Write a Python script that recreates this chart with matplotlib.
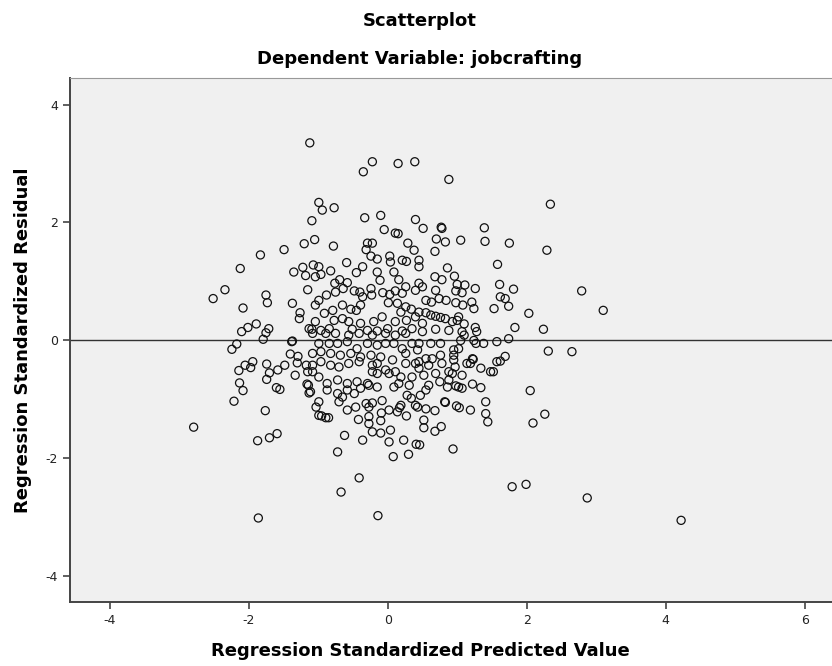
import matplotlib
matplotlib.use("Agg")
import matplotlib.pyplot as plt

# (predicted, residual) pairs, grouped by region
upper_left = [(-1.12, 3.35), (-1.09, 2.03), (-1.20, 1.64), (-1.49, 1.54), (-1.83, 1.45), (-2.12, 1.22),
              (-1.22, 1.24), (-1.35, 1.16), (-1.18, 1.10), (-2.34, 0.86), (-2.51, 0.71), (-1.15, 0.86),
              (-1.75, 0.77), (-1.73, 0.64), (-2.08, 0.55), (-1.37, 0.63), (-1.26, 0.47), (-1.27, 0.37),
              (-1.89, 0.28), (-2.01, 0.22), (-2.10, 0.15), (-1.71, 0.20), (-1.75, 0.13), (-1.13, 0.20)]

lower_left = [(-2.17, -0.06), (-2.24, -0.15), (-1.79, 0.02), (-1.38, -0.02), (-1.37, -0.01), (-1.40, -0.23),
              (-1.29, -0.27), (-1.30, -0.38), (-1.17, -0.42), (-1.15, -0.53), (-1.33, -0.59), (-1.16, -0.74),
              (-1.13, -0.89), (-1.94, -0.36), (-2.05, -0.42), (-1.97, -0.46), (-2.14, -0.51), (-1.74, -0.40),
              (-1.70, -0.55), (-1.74, -0.66), (-1.58, -0.50), (-1.48, -0.42), (-2.13, -0.72), (-2.08, -0.85),
              (-2.21, -1.03), (-1.60, -0.80), (-1.55, -0.83), (-1.76, -1.19), (-2.79, -1.47), (-1.59, -1.58),
              (-1.70, -1.65), (-1.87, -1.70), (-1.86, -3.01)]

upper_mid = [(-0.22, 3.03), (-0.35, 2.86), (0.15, 3.00), (0.39, 3.03), (-0.99, 2.34), (-0.94, 2.21),
             (-0.77, 2.25), (-0.33, 2.08), (-0.10, 2.12), (0.40, 2.05), (-0.05, 1.88), (0.11, 1.82),
             (0.15, 1.81), (0.29, 1.65), (0.38, 1.53), (0.45, 1.36), (-1.05, 1.71), (-0.78, 1.60),
             (-0.29, 1.65), (-0.22, 1.65), (-0.31, 1.54), (-0.24, 1.43), (-0.15, 1.38), (0.03, 1.43),
             (0.04, 1.33), (0.21, 1.36), (0.27, 1.34), (-0.59, 1.32), (-0.36, 1.25), (-0.45, 1.15),
             (-0.15, 1.16), (-0.11, 1.02), (0.09, 1.16), (0.16, 1.03), (-1.07, 1.28), (-0.99, 1.25),
             (-1.04, 1.08), (-0.96, 1.12), (-0.82, 1.18), (-0.76, 0.97), (-0.69, 1.03), (-0.58, 0.98),
             (-0.64, 0.88), (-0.75, 0.82), (-0.88, 0.77), (-0.99, 0.68), (-1.04, 0.60), (-0.48, 0.84),
             (-0.40, 0.82), (-0.36, 0.74), (-0.24, 0.88), (-0.23, 0.77), (-0.07, 0.81), (0.03, 0.78),
             (0.11, 0.84), (0.21, 0.80), (0.26, 0.91), (0.40, 0.85), (0.01, 0.64), (0.14, 0.63),
             (0.26, 0.57), (0.34, 0.53), (-0.08, 0.40), (0.19, 0.48), (0.27, 0.34), (0.40, 0.40),
             (-0.91, 0.46), (-0.79, 0.51), (-0.65, 0.60), (-0.53, 0.53), (-0.45, 0.51), (-0.39, 0.60),
             (-0.77, 0.34), (-0.65, 0.37), (-1.04, 0.32), (-1.09, 0.19), (-0.96, 0.17), (-0.84, 0.20),
             (-0.56, 0.32), (-0.51, 0.19), (-0.39, 0.29), (-0.29, 0.17), (-0.20, 0.32), (-0.15, 0.16),
             (0.00, 0.20), (0.11, 0.32), (0.21, 0.16), (0.35, 0.20)]

upper_right = [(0.88, 2.73), (0.51, 1.90), (0.77, 1.92), (0.78, 1.90), (1.39, 1.91), (0.70, 1.72),
               (0.83, 1.67), (1.05, 1.70), (1.40, 1.68), (1.75, 1.65), (0.68, 1.51), (0.45, 1.25),
               (1.58, 1.29), (0.86, 1.23), (0.68, 1.08), (0.78, 1.03), (0.96, 1.09), (1.00, 0.95),
               (1.11, 0.94), (1.26, 0.88), (0.98, 0.84), (1.07, 0.81), (1.61, 0.95), (1.81, 0.87),
               (1.62, 0.74), (1.69, 0.71), (1.74, 0.58), (1.53, 0.54), (2.03, 0.46), (1.83, 0.22),
               (0.45, 0.97), (0.50, 0.91), (0.69, 0.85), (0.55, 0.68), (0.74, 0.71), (0.84, 0.68),
               (0.63, 0.65), (0.98, 0.64), (1.08, 0.60), (1.21, 0.65), (1.24, 0.54), (0.45, 0.48),
               (0.55, 0.47), (0.62, 0.43), (0.69, 0.41), (0.76, 0.39), (0.83, 0.37), (1.00, 0.34),
               (1.02, 0.40), (0.93, 0.32), (1.10, 0.28), (1.26, 0.22), (0.50, 0.29), (0.69, 0.19),
               (0.88, 0.17), (1.07, 0.15), (2.34, 2.31), (2.29, 1.53), (2.79, 0.84), (3.10, 0.51),
               (2.24, 0.19)]

lower_right = [(2.31, -0.18), (2.65, -0.19), (2.05, -0.85), (2.26, -1.25), (2.09, -1.40), (1.99, -2.44),
               (2.87, -2.67), (4.22, -3.05), (1.79, -2.48), (0.94, -1.84), (0.46, -1.77), (0.41, -1.76),
               (0.68, -1.54), (0.77, -1.46), (0.52, -1.48), (0.52, -1.35), (0.68, -1.19), (0.55, -1.16),
               (0.43, -1.13), (0.82, -1.04), (0.83, -1.05), (0.99, -1.11), (1.03, -1.14), (1.19, -1.18),
               (1.41, -1.04), (1.41, -1.24), (1.44, -1.38), (1.57, -0.36), (1.62, -0.35), (1.69, -0.27),
               (1.74, 0.03), (1.57, -0.02), (1.48, -0.53), (1.52, -0.53), (1.34, -0.47), (1.34, -0.80),
               (1.22, -0.74), (1.22, -0.31), (1.23, -0.32), (1.19, -0.39), (1.14, -0.39), (1.07, -0.59),
               (1.02, -0.79), (1.07, -0.81), (0.98, -0.77), (0.86, -0.79), (0.88, -0.53), (0.93, -0.56),
               (0.88, -0.67), (0.95, -0.16), (0.95, -0.25), (0.95, -0.33), (0.97, -0.45), (1.02, -0.14),
               (1.05, 0.00), (1.10, 0.09), (1.24, 0.00), (1.27, -0.05), (1.38, -0.05), (1.28, 0.15),
               (0.76, -0.25), (0.78, -0.39), (0.69, -0.56), (0.75, -0.70), (0.59, -0.76), (0.55, -0.84),
               (0.47, -0.93), (0.62, -0.05), (0.76, -0.05), (0.64, -0.31), (0.55, -0.31), (0.59, -0.42),
               (0.45, -0.36), (0.45, -0.47), (0.52, -0.59), (0.45, -0.05), (0.50, 0.15), (0.43, -0.16)]

lower_mid = [(-0.14, -2.97), (-0.67, -2.57), (-0.41, -2.33), (-0.72, -1.89), (-0.62, -1.61), (-0.36, -1.69),
             (0.08, -1.97), (0.30, -1.93), (0.23, -1.69), (0.02, -1.72), (0.04, -1.52), (-0.10, -1.57),
             (-0.22, -1.55), (-0.42, -1.34), (-0.27, -1.41), (-0.27, -1.29), (-0.10, -1.36), (-0.09, -1.23),
             (0.02, -1.18), (0.14, -1.21), (0.17, -1.14), (0.27, -1.28), (-0.95, -1.28), (-0.89, -1.31),
             (-0.85, -1.31), (-0.99, -1.27), (-1.03, -1.13), (-0.99, -1.04), (-1.11, -0.87), (-1.14, -0.76),
             (-0.70, -1.04), (-0.58, -1.18), (-0.46, -1.13), (-0.31, -1.07), (-0.27, -1.13), (-0.22, -1.06),
             (-0.08, -1.02), (0.19, -1.10), (0.28, -0.93), (0.34, -0.98), (0.40, -1.10), (-0.87, -0.84),
             (-0.72, -0.90), (-0.65, -0.96), (-0.58, -0.84), (-0.48, -0.90), (-0.39, -0.81), (-0.27, -0.76),
             (-0.15, -0.79), (0.09, -0.79), (0.16, -0.73), (0.31, -0.76), (0.35, -0.62), (0.19, -0.62),
             (0.02, -0.56), (-0.15, -0.56), (-0.22, -0.53), (-0.29, -0.73), (-0.44, -0.70), (-0.58, -0.73),
             (-0.72, -0.67), (-0.87, -0.73), (-0.99, -0.62), (-1.08, -0.53), (-1.08, -0.42), (-0.96, -0.36),
             (-0.82, -0.42), (-0.70, -0.45), (-0.56, -0.39), (-0.41, -0.36), (-0.22, -0.42), (-0.15, -0.39),
             (-0.03, -0.50), (0.11, -0.53), (0.26, -0.39), (0.40, -0.39), (-1.08, -0.22), (-0.96, -0.19),
             (-0.82, -0.22), (-0.68, -0.25), (-0.53, -0.22), (-0.39, -0.28), (-0.24, -0.25), (-0.10, -0.28),
             (0.07, -0.33), (0.26, -0.22), (-0.99, -0.05), (-0.84, -0.05), (-0.72, -0.05), (-0.58, -0.02),
             (-0.44, -0.14), (-0.29, -0.05), (-0.15, -0.08), (-0.03, -0.05), (0.09, -0.05), (0.21, -0.14),
             (0.35, -0.05), (-0.89, 0.12), (-0.75, 0.12), (-0.56, 0.09), (-0.41, 0.12), (-0.22, 0.09),
             (-0.03, 0.12), (0.11, 0.09), (0.26, 0.12), (-1.08, 0.12)]

points = upper_left + lower_left + upper_mid + upper_right + lower_right + lower_mid
pred = [p[0] for p in points]
resid = [p[1] for p in points]

plt.rcParams["axes.unicode_minus"] = False

fig = plt.figure(figsize=(8.32, 6.66), dpi=100)
ax = fig.add_axes([0.084, 0.0956, 0.916, 0.7873])
ax.set_facecolor("#f0f0f0")

ax.axhline(0, color="#333333", linewidth=1.0, zorder=1)
ax.scatter(pred, resid, s=34, facecolors="none", edgecolors="#111111", linewidths=0.9, zorder=2)

ax.set_xlim(-4.57, 6.39)
ax.set_ylim(-4.44, 4.45)
ax.set_xticks([-4, -2, 0, 2, 4, 6])
ax.set_yticks([-4, -2, 0, 2, 4])

for side in ["left", "bottom"]:
    ax.spines[side].set_color("#444444")
    ax.spines[side].set_linewidth(1.4)
ax.spines["top"].set_color("#999999")
ax.spines["right"].set_visible(False)
ax.tick_params(direction="out", length=5, width=1.2, color="#444444", labelsize=9, labelcolor="#222222")

ax.set_xlabel("Regression Standardized Predicted Value", fontsize=13, fontweight="bold")
ax.set_ylabel("Regression Standardized Residual", fontsize=13, fontweight="bold")
ax.xaxis.set_label_coords((420 - 70) / (832 - 70), -0.075)
ax.yaxis.set_label_coords(-0.05, 0.5)

fig.text(420 / 832, 1 - 21 / 666, "Scatterplot", ha="center", va="center", fontsize=13, fontweight="bold")
fig.text(420 / 832, 1 - 59 / 666, "Dependent Variable: jobcrafting", ha="center", va="center",
         fontsize=13, fontweight="bold")

fig.savefig("out.png", dpi=100)
